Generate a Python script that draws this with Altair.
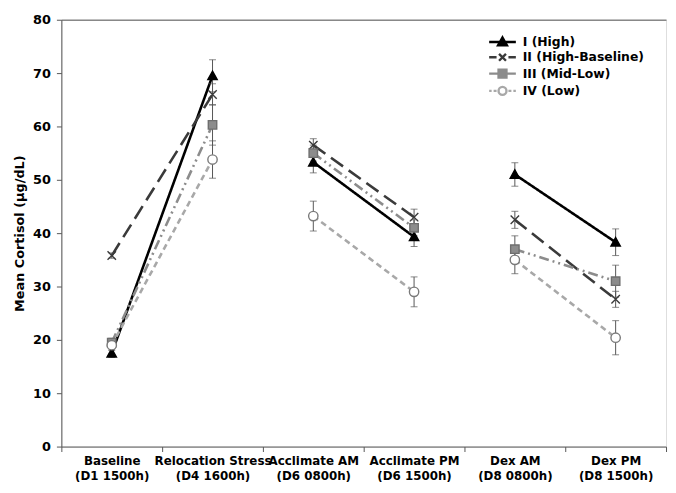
import altair as alt
import pandas as pd

categories = ["Baseline|(D1 1500h)", "Relocation Stress|(D4 1600h)", "Acclimate AM|(D6 0800h)",
              "Acclimate PM|(D6 1500h)", "Dex AM|(D8 0800h)", "Dex PM|(D8 1500h)"]
segments = [1, 1, 2, 2, 3, 3]
series = ["I (High)", "II (High-Baseline)", "III (Mid-Low)", "IV (Low)"]

mean_I = [17.5, 69.5, 53.3, 39.3, 51.0, 38.3]
mean_II = [35.8, 66.0, 56.5, 43.0, 42.5, 27.6]
mean_III = [19.5, 60.3, 55.0, 41.0, 37.0, 31.0]
mean_IV = [19.0, 53.8, 43.2, 29.0, 35.0, 20.4]

se_I = [0.8, 3.0, 2.0, 1.8, 2.2, 2.5]
se_II = [0.5, 2.0, 1.2, 1.5, 1.6, 1.5]
se_III = [0.8, 3.8, 1.5, 1.5, 2.5, 3.0]
se_IV = [1.0, 3.5, 2.8, 2.8, 2.6, 3.2]

y_ticks = [0, 10, 20, 30, 40, 50, 60, 70, 80]

means = [mean_I, mean_II, mean_III, mean_IV]
ses = [se_I, se_II, se_III, se_IV]

rows = []
for s, m, e in zip(series, means, ses):
    for c, seg, v, se in zip(categories, segments, m, e):
        rows.append(dict(series=s, cat=c, seg=seg, mean=v, lo=v - se, hi=v + se))
df = pd.DataFrame(rows)

line_colors = ["#000000", "#3a3a3a", "#8c8c8c", "#a8a8a8"]
dashes = [[1, 0], [15, 7], [10, 4, 2, 4, 2, 4], [6, 4]]
marker_stroke = ["#000000", "#3a3a3a", "#6e6e6e", "#7a7a7a"]
marker_fill = ["#000000", "transparent", "#8c8c8c", "#ffffff"]
marker_shapes = ["M0,-1L1,0.8L-1,0.8Z", "M-0.9,-0.9L0.9,0.9M-0.9,0.9L0.9,-0.9",
                 "M-0.9,-0.9L0.9,-0.9L0.9,0.9L-0.9,0.9Z", "circle"]
legend_shapes = [
    "M-2.7,0L2.7,0M0,-0.9L0.9,0.7L-0.9,0.7Z",
    "M-2.7,0L-1.2,0M1.2,0L2.7,0M-0.7,-0.7L0.7,0.7M-0.7,0.7L0.7,-0.7",
    "M-2.7,0L-1.0,0M1.0,0L2.7,0M-0.8,-0.8L0.8,-0.8L0.8,0.8L-0.8,0.8Z",
    "M-2.7,0L-2.2,0M-1.8,0L-1.2,0M1.2,0L1.8,0M2.2,0L2.7,0M0.8,0A0.8,0.8,0,1,1,-0.8,0A0.8,0.8,0,1,1,0.8,0Z",
]

FONT = "DejaVu Sans"

x_enc = alt.X("cat:N", sort=categories,
              scale=alt.Scale(type="band", domain=categories, paddingInner=0, paddingOuter=0),
              axis=alt.Axis(title=None, labelExpr="split(datum.label, '|')", tickBand="extent",
                            labelAngle=0, labelFont=FONT, labelFontWeight="bold", labelFontSize=12,
                            labelColor="#000", labelLineHeight=15, labelPadding=4, tickSize=5,
                            tickColor="#555", domainColor="#555", labelBaseline="top",
                            labelOverlap=False))

base = alt.Chart(df)

lines = base.mark_line(strokeWidth=2.6).encode(
    x=x_enc,
    y=alt.Y("mean:Q", scale=alt.Scale(domain=[0, 80]),
            axis=alt.Axis(values=y_ticks, title="Mean Cortisol (µg/dL)", grid=True,
                          gridColor="#888", gridWidth=1.5,
                          gridOpacity=alt.condition("datum.value == 80", alt.value(1), alt.value(0)),
                          tickSize=5, tickColor="#555", domainColor="#555", labelFont=FONT,
                          labelFontWeight="bold", labelFontSize=13, labelColor="#000",
                          labelPadding=6,
                          titleFont=FONT, titleFontWeight="bold", titleFontSize=13,
                          titleColor="#000", titlePadding=6)),
    color=alt.Color("series:N", scale=alt.Scale(domain=series, range=line_colors), legend=None),
    strokeDash=alt.StrokeDash("series:N", scale=alt.Scale(domain=series, range=dashes), legend=None),
    detail="seg:N",
    order=alt.Order("cat:N"),
)

err_rule = base.mark_rule(color="#555", strokeWidth=1).encode(
    x=alt.X("cat:N", sort=categories), y="lo:Q", y2="hi:Q")
err_lo = base.mark_tick(color="#555", size=7, thickness=1).encode(
    x=alt.X("cat:N", sort=categories), y="lo:Q")
err_hi = base.mark_tick(color="#555", size=7, thickness=1).encode(
    x=alt.X("cat:N", sort=categories), y="hi:Q")

points = base.mark_point(size=90, strokeWidth=1.4, opacity=1).encode(
    x=alt.X("cat:N", sort=categories),
    y="mean:Q",
    shape=alt.Shape("series:N", scale=alt.Scale(domain=series, range=marker_shapes), legend=None),
    fill=alt.Fill("series:N", scale=alt.Scale(domain=series, range=marker_fill), legend=None),
    stroke=alt.Stroke("series:N", scale=alt.Scale(domain=series, range=marker_stroke), legend=None),
)

leg = alt.Legend(title=None, orient="none", legendX=440, legendY=16, symbolSize=100,
                 labelFont=FONT, labelFontWeight="bold", labelFontSize=12.5, labelColor="#000",
                 labelOffset=14, rowPadding=-1.5, padding=0, symbolStrokeWidth=2.4)

legend_layer = base.mark_point(size=100, strokeWidth=2.4, opacity=1).encode(
    x=alt.X("cat:N", sort=categories),
    y="mean:Q",
    shape=alt.Shape("series:N", scale=alt.Scale(domain=series, range=legend_shapes), legend=leg),
    fill=alt.Fill("series:N", scale=alt.Scale(domain=series, range=marker_fill), legend=leg),
    stroke=alt.Stroke("series:N", scale=alt.Scale(domain=series, range=line_colors), legend=leg),
).transform_filter("false")

chart = alt.layer(lines, err_rule, err_lo, err_hi, points, legend_layer).resolve_scale(
    shape="independent", fill="independent", stroke="independent"
).properties(
    width=612, height=432,
    autosize=alt.AutoSizeParams(type="none"),
    padding={"left": 54, "top": 9, "right": 2, "bottom": 36},
).configure_view(stroke=None).configure(font=FONT)

chart.save("out.html", embed_options={"renderer": "svg", "actions": False})
